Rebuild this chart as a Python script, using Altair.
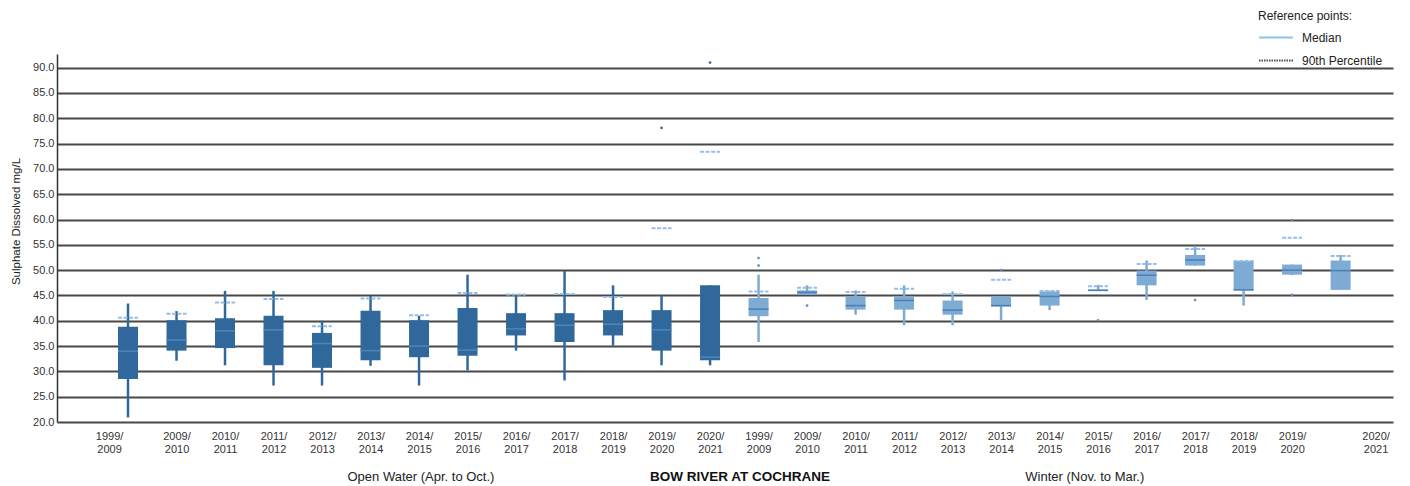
import altair as alt
import pandas as pd

# ---------------- data ----------------
year_labels = ["1999/2009", "2009/2010", "2010/2011", "2011/2012", "2012/2013",
               "2013/2014", "2014/2015", "2015/2016", "2016/2017", "2017/2018",
               "2018/2019", "2019/2020", "2020/2021"]
season_names = ["Open Water", "Winter"]
season_titles = ["Open Water (Apr. to Oct.)", "Winter (Nov. to Mar.)"]
station = "BOW RIVER AT COCHRANE"

# Open water (Apr. to Oct.)
ow_min = [20.9, 32.1, 31.2, 27.2, 27.2, 31.1, 27.2, 30.2, 34.1, 28.2, 35.1, 31.2, 31.2]
ow_q1 = [28.5, 34.1, 34.6, 31.2, 30.7, 32.2, 32.8, 33.1, 37.1, 35.8, 37.1, 34.1, 32.2]
ow_med = [34.0, 36.2, 38.0, 38.2, 35.5, 34.1, 35.0, 34.2, 38.4, 39.1, 39.3, 38.2, 32.8]
ow_q3 = [38.8, 40.1, 40.5, 41.0, 37.6, 42.0, 40.1, 42.5, 41.5, 41.5, 42.1, 42.1, 47.0]
ow_max = [43.4, 41.9, 45.9, 45.9, 40.0, 44.9, 41.0, 49.1, 45.0, 49.9, 47.0, 45.0, 47.0]
ow_p90 = [40.6, 41.4, 43.6, 44.3, 38.9, 44.4, 41.1, 45.5, 45.2, 45.3, 44.7, 58.3, 73.4]

# Winter (Nov. to Mar.)
wi_min = [35.8, 45.1, 41.2, 39.1, 39.1, 40.1, 42.1, 46.0, 44.1, 50.9, 43.0, 49.0, 46.1]
wi_q1 = [40.9, 45.1, 42.2, 42.2, 41.2, 42.8, 43.0, 46.0, 47.0, 50.9, 46.0, 49.1, 46.1]
wi_med = [42.3, 45.6, 43.0, 44.0, 42.1, 43.0, 44.8, 46.0, 49.0, 52.0, 46.1, 50.0, 49.9]
wi_q3 = [44.5, 46.0, 44.8, 44.8, 44.0, 44.8, 45.8, 46.2, 49.9, 53.0, 51.8, 51.1, 51.9]
wi_max = [49.1, 47.0, 46.0, 47.0, 45.8, 44.8, 45.8, 47.1, 51.9, 54.8, 51.8, 51.1, 53.0]
wi_p90 = [45.8, 46.5, 45.7, 46.3, 45.3, 48.1, 45.9, 46.8, 51.2, 54.2, 51.8, 56.4, 52.8]

# Outliers
out_season = ["Open Water", "Open Water", "Winter", "Winter", "Winter", "Winter",
              "Winter", "Winter", "Winter", "Winter"]
out_year = ["2019/2020", "2020/2021", "1999/2009", "1999/2009", "2009/2010",
            "2013/2014", "2015/2016", "2017/2018", "2019/2020", "2019/2020"]
out_value = [78.1, 91.0, 50.9, 52.4, 43.0, 50.0, 40.1, 44.1, 45.1, 59.9]

ref_names = ["Median", "90th Percentile"]
y_ticks = [20, 25, 30, 35, 40, 45, 50, 55, 60, 65, 70, 75, 80, 85, 90]

# ---------------- tables ----------------
n = len(year_labels)
box = pd.DataFrame({
    "idx": list(range(2 * n)),
    "season": [season_names[0]] * n + [season_names[1]] * n,
    "year": year_labels + year_labels,
    "lo": ow_min + wi_min,
    "q1": ow_q1 + wi_q1,
    "med": ow_med + wi_med,
    "q3": ow_q3 + wi_q3,
    "hi": ow_max + wi_max,
    "p90": ow_p90 + wi_p90,
})
out = pd.DataFrame({
    "idx": [season_names.index(s) * n + year_labels.index(y) for s, y in zip(out_season, out_year)],
    "season": out_season,
    "value": out_value,
})
legend_df = pd.DataFrame({"ref": ref_names})

# ---------------- styling ----------------
FONT = "Liberation Sans"
DARK = "#31689b"
LIGHT = "#7eabd4"
is_ow = alt.datum.season == "Open Water"

all_labels = year_labels + year_labels
top_js = "[" + ",".join('"' + s.split("/")[0] + '/"' for s in all_labels) + "]"
bot_js = "[" + ",".join('"' + s.split("/")[1] + '"' for s in all_labels) + "]"
label_pos = [float(i) for i in range(2 * n)]
label_pos[0] = -0.39
label_pos[-1] = 2 * n - 1 + 0.72
i_expr = f"clamp(round(datum.value),0,{2*n-1})"

# both season captions share the bottom axis title line (non-breaking gap between them)
group_caption = season_titles[0] + "\u00a0" * 147 + season_titles[1]

xscale = alt.Scale(domain=[-1.464, 26.08], nice=False, zero=False)
yscale = alt.Scale(domain=[20, 92.7], nice=False, zero=False)

xaxis = alt.Axis(
    orient="bottom",
    values=label_pos,
    labelExpr=f"[{top_js}[{i_expr}], {bot_js}[{i_expr}]]",
    ticks=False, domain=False, grid=False,
    labelFont=FONT, labelFontSize=11, labelColor="#333333",
    labelBaseline="top", labelLineHeight=13, labelPadding=8,
    labelOverlap=False, labelFlush=False,
    title=group_caption, titleFont=FONT, titleFontSize=13,
    titleFontWeight="normal", titleColor="#222222", titleLimit=1300,
    titleX=290, titleY=54, titleAlign="left", titleBaseline="middle",
)
yaxis = alt.Axis(
    orient="left",
    values=y_ticks, format=".1f", ticks=False,
    domain=True, domainColor="#333333", domainWidth=1.5,
    grid=True, gridColor="#484848", gridWidth=2,
    labelFont=FONT, labelFontSize=11, labelColor="#333333", labelPadding=3,
    title="Sulphate Dissolved mg/L", titleFont=FONT, titleFontSize=11.5,
    titleFontWeight="normal", titleColor="#222222",
    titleX=-36, titleY=167, titleAngle=270, titleAlign="center", titleBaseline="bottom",
)

X = alt.X("idx:Q", scale=xscale, axis=xaxis)
def Y(field):
    return alt.Y(field, type="quantitative", scale=yscale, axis=yaxis)

season_color = alt.condition(is_ow, alt.value(DARK), alt.value(LIGHT))
HLINE = "M-1,0L1,0"

whiskers = alt.Chart(box).mark_rule(strokeWidth=2.5).encode(
    x=X, y=Y("lo"), y2="hi:Q", color=season_color,
)

boxes = alt.Chart(box).mark_rule(strokeWidth=20, strokeCap="butt").encode(
    x=X, y=Y("q1"), y2="q3:Q", color=season_color,
)

medians = alt.Chart(box).mark_point(shape=HLINE, size=400, filled=False, opacity=1, strokeWidth=1.5).encode(
    x=X, y=Y("med"),
    color=alt.condition(is_ow, alt.value("#4f86ba"), alt.value("#4a7fb5")),
)

p90 = alt.Chart(box).mark_point(shape=HLINE, size=400, filled=False, opacity=1,
                                strokeWidth=2, strokeDash=[4, 1.5]).encode(
    x=X, y=Y("p90"), color=alt.value("#95bfe6"),
)

outliers = alt.Chart(out).mark_circle(size=7, opacity=1).encode(
    x=X, y=Y("value"),
    color=alt.condition(is_ow, alt.value(DARK), alt.value("#5d8fc4")),
)

leg = alt.Legend(
    orient="none", legendX=1201, legendY=-43, padding=0,
    title="Reference points:", titleFont=FONT, titleFontSize=12,
    titleFontWeight="normal", titleColor="#222222", titlePadding=5,
    labelFont=FONT, labelFontSize=12, labelColor="#222222",
    symbolType="M-1,0L3,0", symbolSize=289, symbolStrokeWidth=2,
    labelOffset=25, rowPadding=7,
)
legend_layer = alt.Chart(legend_df).mark_rule(strokeWidth=2).encode(
    x=alt.value(0), x2=alt.value(0), y=alt.value(0), y2=alt.value(0),
    color=alt.Color("ref:N", scale=alt.Scale(domain=ref_names, range=["#8ec3ea", "#4a4a4a"]), legend=leg),
    strokeDash=alt.StrokeDash("ref:N", scale=alt.Scale(domain=ref_names, range=[[1, 0], [1.5, 1]]), legend=leg),
)

chart = alt.layer(whiskers, boxes, medians, p90, outliers, legend_layer).properties(
    width=1336, height=368,
    autosize=alt.AutoSizeParams(type="none"),
    padding={"left": 49, "top": 46, "right": 9, "bottom": 64},
    title=alt.Title(station, orient="bottom", anchor="middle",
                    font=FONT, fontSize=13.5, fontWeight="bold", color="#111111",
                    dx=15, dy=-13, offset=0),
).configure_view(strokeWidth=0)

chart.save("out.html", embed_options={"renderer": "svg", "actions": False})
